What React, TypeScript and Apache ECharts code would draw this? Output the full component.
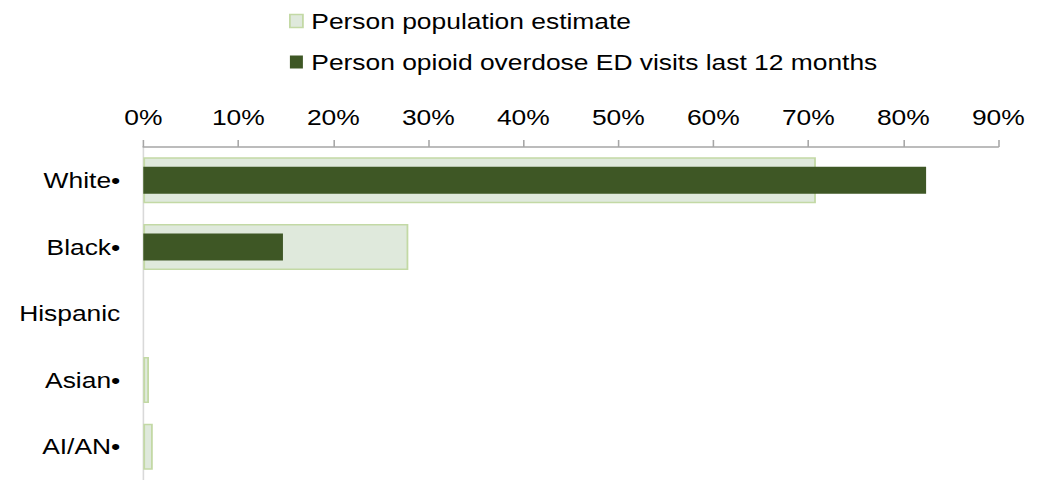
import React, { useEffect, useRef } from "react";
import * as echarts from "echarts";

const categories = ["White•", "Black•", "Hispanic", "Asian•", "AI/AN•"];
const popEstimate = [0.708, 0.279, null, 0.006, 0.01];
const edVisits = [0.824, 0.147, null, null, null];
const tickLabels = ["0%", "10%", "20%", "30%", "40%", "50%", "60%", "70%", "80%", "90%"];
const seriesNames = ["Person population estimate", "Person opioid overdose ED visits last 12 months"];

// The reference text is horizontally wide; draw in compressed coordinates and stretch.
const SX = 1.2;
const W = 1048 / SX;

export default function App() {
  const ref = useRef<HTMLDivElement>(null);
  useEffect(() => {
    if (!ref.current) return;
    const chart = echarts.init(ref.current, null, { renderer: "svg" });
    const font = "'Liberation Sans', Arial, sans-serif";
    chart.setOption({
      animation: false,
      textStyle: { fontFamily: font },
      legend: {
        orient: "vertical",
        left: 289 / SX,
        top: 10,
        padding: 0,
        itemWidth: 13 / SX,
        itemHeight: 13,
        itemGap: 19,
        textStyle: { fontSize: 22, color: "#000", fontFamily: font, padding: [0, 0, 0, 2] },
        data: [
          { name: seriesNames[0], icon: "rect", itemStyle: { color: "#dfe9dc", borderColor: "#c3d9a5", borderWidth: 1.5 } },
          { name: seriesNames[1], icon: "rect", itemStyle: { color: "#3e5725" } },
        ],
      },
      grid: { left: 143.3 / SX, top: 147, width: 855 / SX, height: 340 },
      xAxis: {
        type: "value",
        position: "top",
        min: 0,
        max: 0.9,
        interval: 0.1,
        axisLine: { show: true, lineStyle: { color: "#a6a6a6", width: 1.5 } },
        axisTick: { show: true, length: 7, lineStyle: { color: "#a6a6a6", width: 1.3 } },
        splitLine: { show: false },
        axisLabel: {
          fontSize: 22,
          color: "#000",
          fontFamily: font,
          margin: 19,
          formatter: (v: number) => tickLabels[Math.round(v * 10)] ?? "",
        },
      },
      yAxis: [
        {
          type: "category",
          inverse: true,
          data: categories,
          axisLine: { show: true, lineStyle: { color: "#d9d9d9", width: 1.3 } },
          axisTick: { show: false },
          axisLabel: { fontSize: 22, color: "#000", fontFamily: font, margin: 23 / SX },
        },
        {
          type: "category",
          inverse: true,
          data: categories,
          show: false,
        },
      ],
      series: [
        {
          name: seriesNames[0],
          type: "bar",
          yAxisIndex: 0,
          data: popEstimate,
          barWidth: 46,
          itemStyle: { color: "#dfe9dc", borderColor: "#c3d9a5", borderWidth: 1.5 },
        },
        {
          name: seriesNames[1],
          type: "bar",
          yAxisIndex: 1,
          data: edVisits,
          barWidth: 27,
          itemStyle: { color: "#3e5725" },
        },
      ],
    });
    return () => chart.dispose();
  }, []);
  return (
    <div
      ref={ref}
      style={{
        position: "absolute",
        left: 0,
        top: 0,
        width: W,
        height: 480,
        transform: `scaleX(${SX})`,
        transformOrigin: "0 0",
      }}
    />
  );
}
